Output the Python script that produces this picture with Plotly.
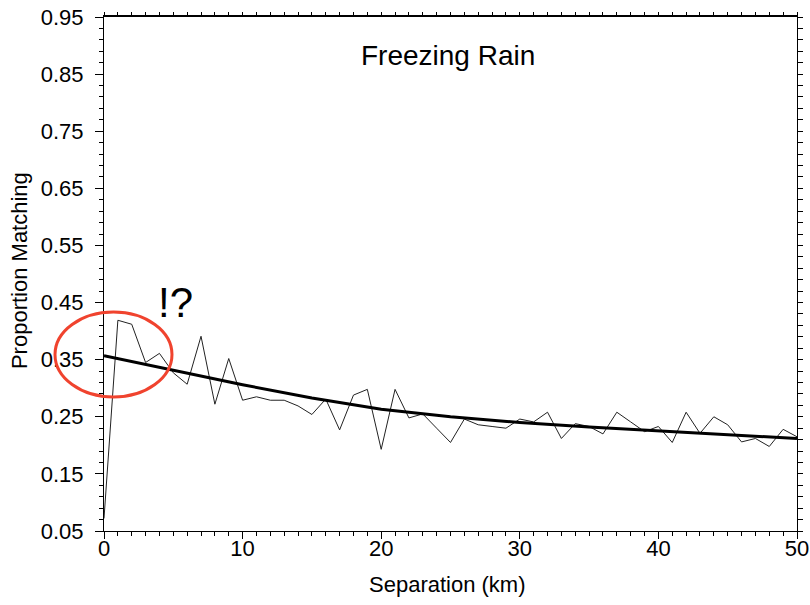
import plotly.graph_objects as go

# Observed proportion matching at each separation (km)
separation_km = list(range(0, 51))
proportion_observed = [
    0.072, 0.419, 0.412, 0.345, 0.361, 0.327, 0.307, 0.391, 0.272, 0.352,
    0.279, 0.285, 0.279, 0.279, 0.269, 0.254, 0.281, 0.227, 0.288, 0.298,
    0.193, 0.298, 0.248, 0.255, 0.230, 0.205, 0.246, 0.236, 0.233, 0.230,
    0.246, 0.241, 0.258, 0.212, 0.238, 0.233, 0.220, 0.258, 0.241, 0.224,
    0.233, 0.205, 0.258, 0.221, 0.250, 0.236, 0.206, 0.212, 0.198, 0.228,
    0.215,
]

# Fitted curve read at every 5 km
fit_km = [0, 5, 10, 15, 20, 25, 30, 35, 40, 45, 50]
fit_values = [0.357, 0.331, 0.306, 0.283, 0.263, 0.250, 0.240, 0.232, 0.225, 0.218, 0.212]

y_ticks = [0.05, 0.15, 0.25, 0.35, 0.45, 0.55, 0.65, 0.75, 0.85, 0.95]
x_ticks = [0, 10, 20, 30, 40, 50]

FONT = "Arial, Liberation Sans, sans-serif"

fig = go.Figure()
fig.add_trace(go.Scatter(x=separation_km, y=proportion_observed, mode="lines",
                         line=dict(color="#222222", width=1), showlegend=False))
fig.add_trace(go.Scatter(x=fit_km, y=fit_values, mode="lines",
                         line=dict(color="black", width=3), showlegend=False))
# dummy trace for the right/top axes
fig.add_trace(go.Scatter(x=[None], y=[None], xaxis="x2", yaxis="y2", showlegend=False))

fig.update_layout(
    width=810, height=605,
    margin=dict(l=104, r=13, t=17, b=74),
    paper_bgcolor="white", plot_bgcolor="white",
    font=dict(family=FONT, size=22, color="black"),
    xaxis=dict(range=[0, 50], tickvals=x_ticks, ticktext=[str(v) for v in x_ticks],
               automargin=False,
               showgrid=False, zeroline=False, showline=True, linecolor="black", linewidth=1,
               ticks="outside", ticklen=7, tickcolor="black", tickwidth=1,
               ticklabelstandoff=-9,
               minor=dict(dtick=1, tick0=0, ticks="outside", ticklen=4, tickcolor="black", showgrid=False),
               tickfont=dict(size=22)),
    yaxis=dict(range=[0.05, 0.95], tickvals=y_ticks, ticktext=[f"{v:.2f}" for v in y_ticks],
               automargin=False,
               showgrid=False, zeroline=False, showline=True, linecolor="black", linewidth=1,
               ticks="outside", ticklen=8, tickcolor="black", tickwidth=1,
               ticklabelstandoff=7,
               minor=dict(dtick=0.02, tick0=0.05, ticks="outside", ticklen=4, tickcolor="black", showgrid=False),
               tickfont=dict(size=22)),
    xaxis2=dict(range=[0, 50], overlaying="x", side="top", showgrid=False, zeroline=False,
                automargin=False,
                showline=True, linecolor="black", linewidth=2, showticklabels=False,
                ticks="outside", dtick=1, tick0=0, ticklen=3, tickcolor="black"),
    yaxis2=dict(range=[0.05, 0.95], overlaying="y", side="right", showgrid=False, zeroline=False,
                automargin=False,
                showline=True, linecolor="black", linewidth=1, showticklabels=False,
                ticks="outside", dtick=0.02, tick0=0.05, ticklen=5, tickcolor="black"),
)

fig.add_annotation(text="Separation (km)", xref="paper", yref="paper", x=0.496, y=-0.105,
                   showarrow=False, font=dict(size=22, family=FONT, color="black"),
                   xanchor="center", yanchor="middle")
fig.add_annotation(text="Proportion Matching", xref="paper", yref="paper", x=-0.121, y=0.506,
                   showarrow=False, textangle=-90, font=dict(size=22, family=FONT, color="black"),
                   xanchor="center", yanchor="middle")
fig.add_annotation(text="Freezing Rain", xref="paper", yref="paper", x=0.497, y=0.926,
                   showarrow=False, font=dict(size=28, family=FONT, color="black"),
                   xanchor="center", yanchor="middle")
fig.add_annotation(text="!?", xref="paper", yref="paper", x=0.1025, y=0.4455,
                   showarrow=False, font=dict(size=42, family=FONT, color="black"),
                   xanchor="center", yanchor="middle")
fig.add_shape(type="circle", xref="paper", yref="paper",
              x0=-0.0707, x1=0.0981, y0=0.2607, y1=0.426,
              line=dict(color="#f0432e", width=3), fillcolor="rgba(0,0,0,0)")

fig.write_html("out.html", config={"displayModeBar": False},
               post_script="document.body.style.margin='0';document.body.style.overflow='hidden';")
